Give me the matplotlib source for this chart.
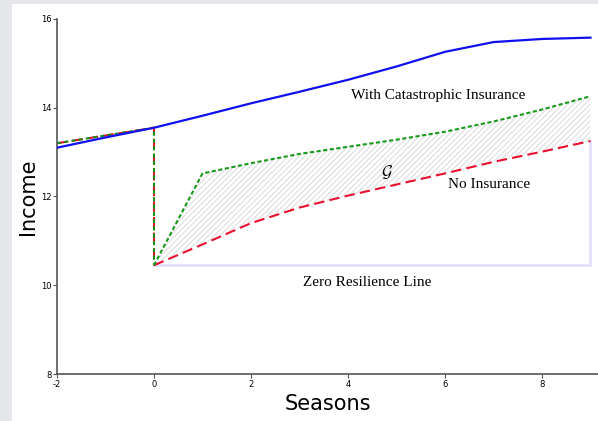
import numpy as np
import matplotlib
matplotlib.use("Agg")
import matplotlib.pyplot as plt
from matplotlib.patches import Rectangle

# data
seasons = np.arange(-2, 10)
pre_seasons = [-2, 0]
insured_income = [13.1, 13.33, 13.55, 13.82, 14.1, 14.36, 14.63, 14.93, 15.26, 15.48, 15.55, 15.58]
pre_shock = [13.2, 13.55]

post_seasons = np.arange(0, 10)
catastrophic = [10.45, 12.52, 12.75, 12.96, 13.12, 13.28, 13.46, 13.69, 13.96, 14.26]
no_insurance = [10.45, 10.92, 11.4, 11.75, 12.02, 12.27, 12.52, 12.78, 13.01, 13.25]
zero_resilience = 10.45

plt.rcParams['hatch.linewidth'] = 0.6
plt.rcParams['mathtext.fontset'] = 'cm'
plt.rcParams['axes.unicode_minus'] = False

fig = plt.figure(figsize=(5.98, 4.21), dpi=100, facecolor='#e6e7ea')
fig.patches.append(Rectangle((12 / 598, 0), 1 - 12 / 598, 1 - 4 / 421,
                             transform=fig.transFigure, facecolor='white',
                             edgecolor='none', zorder=-5))
ax = fig.add_axes([57 / 598, 1 - 374 / 421, 1 - 57 / 598, (374 - 19) / 421])
ax.set_facecolor('none')

# shaded gain between the two recovery paths
ax.fill_between(post_seasons, no_insurance, catastrophic, facecolor='none',
                edgecolor='#d4d4d4', hatch='//////', linewidth=0)

# zero resilience line
ax.plot([post_seasons[0], post_seasons[-1], post_seasons[-1]],
        [zero_resilience, zero_resilience, no_insurance[-1]],
        color='#e2e0ff', lw=2, zorder=1)

ax.plot(seasons, insured_income, color='#1010f0', lw=1.6, zorder=3)

# pre-shock path and drop
ax.plot(pre_seasons + [0], pre_shock + [zero_resilience], color='#e0102a',
        lw=1.5, dashes=(5, 2.5), zorder=2)
ax.plot(pre_seasons + [0], pre_shock + [zero_resilience], color='#1a8a1a',
        lw=1.5, dashes=(2, 1.5), zorder=2)

ax.plot(post_seasons, no_insurance, color='#e8102f', lw=1.5, dashes=(5, 2.5), zorder=2)
ax.plot(post_seasons, catastrophic, color='#1a9a1a', lw=1.5, dashes=(2, 1.2), zorder=2)

serif = dict(family='Liberation Serif', fontsize=11, ha='center', va='center')
ax.text(5.86, 14.27, 'With Catastrophic Insurance', **serif)
ax.text(6.9, 12.28, 'No Insurance', **serif)
ax.text(4.4, 10.07, 'Zero Resilience Line', **serif)
ax.text(4.8, 12.55, r'$\mathcal{G}$', fontsize=12, ha='center', va='center')

ax.set_xlim(-2, 9.155)
ax.set_ylim(8, 16)
ax.set_xticks([-2, 0, 2, 4, 6, 8])
ax.set_yticks([8, 10, 12, 14, 16])
for s in ['top', 'right']:
    ax.spines[s].set_visible(False)
for s in ['left', 'bottom']:
    ax.spines[s].set_color('#555555')
    ax.spines[s].set_linewidth(1.2)
ax.tick_params(labelsize=6, length=3, width=0.8, color='#555555', pad=1)

ax.set_xlabel('Seasons', fontsize=15, labelpad=4)
ax.set_ylabel('Income', fontsize=15, labelpad=2)

fig.savefig('out.png', dpi=100, facecolor=fig.get_facecolor())
